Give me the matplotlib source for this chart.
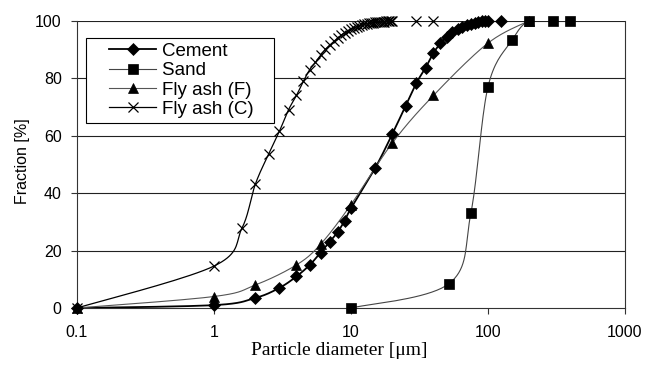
import matplotlib
matplotlib.use("Agg")
import matplotlib.pyplot as plt
from matplotlib.lines import Line2D
from matplotlib.legend_handler import HandlerLine2D
import numpy as np

# particle size distributions
cement_d = [0.1, 1, 2, 3, 4, 5, 6, 7, 8, 9, 10, 15, 20, 25, 30, 35, 40, 45,
            50, 55, 60, 65, 70, 75, 80, 85, 90, 95, 100, 125]
cement_f = [0, 1, 3.5, 7, 11, 15, 19.3, 23, 26.5, 30.4, 34.7, 48.7, 60.5, 70.3, 78.3, 83.6, 88.8, 92.1,
            94.5, 96, 97, 97.8, 98.4, 98.9, 99.3, 99.6, 99.8, 99.9, 100, 100]

sand_d = [10, 52, 75, 100, 150, 200, 300, 400]
sand_f = [0, 8.5, 33, 77, 93.3, 100, 100, 100]

flyF_d = [0.1, 1, 2, 4, 6, 10, 20, 40, 100, 200]
flyF_f = [0, 4, 8, 15, 22.2, 36, 57.4, 74, 92.2, 100]

flyC_d = [0.1, 1, 1.6, 2, 2.5, 3, 3.5, 4, 4.5, 5, 5.5, 6, 6.5, 7, 7.5, 8, 8.5, 9, 9.5, 10,
          10.5, 11, 11.5, 12, 12.5, 13, 13.5, 14, 14.5, 15, 15.5, 16, 16.5, 17, 17.5, 18,
          18.5, 19, 19.5, 20, 30, 40]
flyC_f = [0, 14.6, 27.8, 43, 53.5, 61.5, 69, 74, 79, 83, 85.5, 88, 90, 91.5, 92.8, 94, 95,
          95.8, 96.5, 97, 97.5, 97.9, 98.2, 98.5, 98.7, 98.9, 99.05, 99.2, 99.3, 99.4, 99.5,
          99.55, 99.6, 99.65, 99.7, 99.75, 99.8, 99.85, 99.9, 99.9, 100, 100]

series = [
    ("Cement", cement_d, cement_f, dict(color="black", lw=1.3, marker="D", ms=6)),
    ("Sand", sand_d, sand_f, dict(color="#444444", lw=0.8, marker="s", ms=6.8)),
    ("Fly ash (F)", flyF_d, flyF_f, dict(color="#555555", lw=0.8, marker="^", ms=6.5)),
    ("Fly ash (C)", flyC_d, flyC_f, dict(color="black", lw=0.9, marker="x", ms=7, mew=0.9)),
]


def smooth_path(ax, x, y, n=20):
    # Excel-like smoothed line: Catmull-Rom spline in screen space
    pts = ax.transData.transform(np.column_stack([x, y]))
    out = [pts[0]]
    for i in range(len(pts) - 1):
        p0 = pts[i - 1] if i > 0 else pts[i]
        p1, p2 = pts[i], pts[i + 1]
        p3 = pts[i + 2] if i + 2 < len(pts) else pts[i + 1]
        c1 = p1 + (p2 - p0) / 6.0
        c2 = p2 - (p3 - p1) / 6.0
        t = np.linspace(0, 1, n)[1:, None]
        seg = ((1 - t) ** 3) * p1 + 3 * ((1 - t) ** 2) * t * c1 + 3 * (1 - t) * t ** 2 * c2 + t ** 3 * p2
        out.extend(seg)
    out = ax.transData.inverted().transform(np.array(out))
    return out[:, 0], out[:, 1]


fig = plt.figure(figsize=(6.47, 3.66), dpi=100)
ax = fig.add_axes([77 / 647, 1 - 308 / 366, 548 / 647, 287.3 / 366])
ax.set_xscale("log")
ax.set_xlim(0.1, 1000)
ax.set_ylim(0, 100)

for y in [20, 40, 60, 80, 100]:
    ax.axhline(y, color="#222222", lw=0.8, zorder=1)

handles = []
for label, d, f, st in series:
    sx, sy = smooth_path(ax, d, f)
    ax.plot(sx, sy, color=st["color"], lw=st["lw"], zorder=3)
    ax.plot(d, f, ls="none", marker=st["marker"], ms=st["ms"], color="black",
            mew=st.get("mew", 0.5), clip_on=False, zorder=4)
    handles.append(Line2D([], [], color=st["color"], lw=st["lw"], marker=st["marker"],
                          ms=st["ms"], mew=st.get("mew", 0.5), mfc="black", mec="black"))

ax.set_xticks([0.1, 1, 10, 100, 1000])
ax.set_xticklabels(["0.1", "1", "10", "100", "1000"])
ax.xaxis.set_minor_locator(matplotlib.ticker.NullLocator())
ax.set_yticks([0, 20, 40, 60, 80, 100])
ax.tick_params(axis="both", direction="out", length=4, width=0.8, labelsize=11.5,
               color="#333333")
ax.tick_params(axis="y", pad=7)
ax.tick_params(axis="x", pad=8)
for lab in ax.get_xticklabels() + ax.get_yticklabels():
    lab.set_fontfamily("Liberation Sans")

for side in ["left", "bottom", "right"]:
    ax.spines[side].set_color("#333333")
    ax.spines[side].set_linewidth(0.8)
ax.spines["top"].set_visible(False)

ax.set_ylabel("Fraction [%]", fontsize=11.5, family="Liberation Sans")
ax.yaxis.set_label_coords(-0.085, 0.51)
ax.set_xlabel("Particle diameter [\u03bcm]", fontsize=14, family="Liberation Serif")
ax.xaxis.set_label_coords(0.478, -0.12)

labels = [s[0] + "   " for s in series]
leg = ax.legend(handles, labels, loc="upper left",
                bbox_to_anchor=(0.0164, 0.94), borderaxespad=0, fancybox=False,
                edgecolor="black", framealpha=1, handlelength=3.5, handletextpad=0.3,
                labelspacing=0.12, borderpad=0.25,
                handler_map={Line2D: HandlerLine2D(xpad=1.0)},
                prop={"family": "Liberation Sans", "size": 13.5})
leg.get_frame().set_linewidth(0.8)
leg.set_zorder(5)

fig.savefig("out.png", dpi=100)
